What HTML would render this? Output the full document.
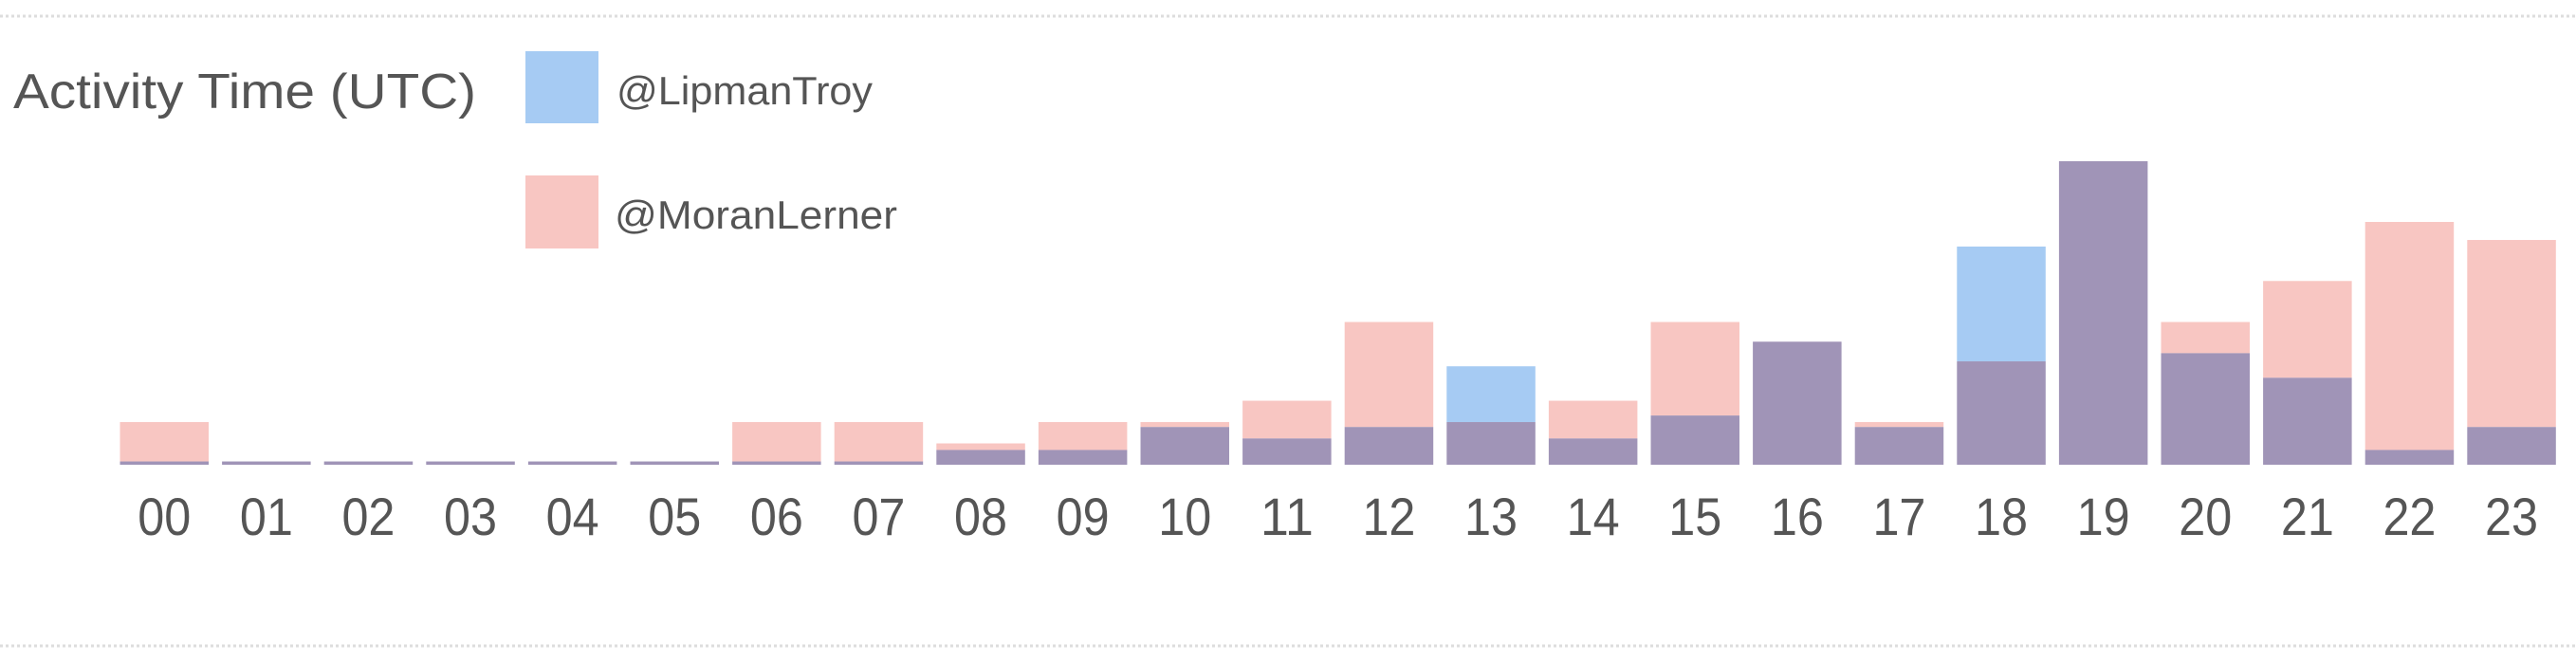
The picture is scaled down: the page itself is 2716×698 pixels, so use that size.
<!DOCTYPE html>
<html><head><meta charset="utf-8"><style>
html,body{margin:0;padding:0;background:#fff;}
svg{display:block;font-family:"Liberation Sans",Arial,sans-serif;}
</style></head><body>
<svg id="chart" width="2716" height="698" viewBox="0 0 2716 698" xmlns="http://www.w3.org/2000/svg">
<line x1="0" y1="17" x2="2716" y2="17" stroke="#ddd" stroke-width="3" stroke-dasharray="3,3"/>
<line x1="0" y1="681" x2="2716" y2="681" stroke="#ddd" stroke-width="3" stroke-dasharray="3,3"/>
<text x="14" y="114" font-size="52" fill="#555" textLength="488" lengthAdjust="spacingAndGlyphs">Activity Time (UTC)</text>
<rect x="554" y="54" width="77" height="76" fill="#a6cbf3"/>
<text x="650" y="110" font-size="42" fill="#555" textLength="270" lengthAdjust="spacingAndGlyphs">@LipmanTroy</text>
<rect x="554" y="185" width="77" height="77" fill="#f8c6c2"/>
<text x="648" y="241" font-size="42" fill="#555" textLength="298" lengthAdjust="spacingAndGlyphs">@MoranLerner</text>
<g id="bars"></g>
<g id="ticks"></g>
</svg>
<script>
const hours = ["00","01","02","03","04","05","06","07","08","09","10","11","12","13","14","15","16","17","18","19","20","21","22","23"];
const lipmanTroy = [2,2,2,2,2,2,2,2,9,9,23,16,23,60,16,30,75,23,133,185,68,53,9,23];
const moranLerner = [26,2,2,2,2,2,26,26,13,26,26,39,87,26,39,87,75,26,63,185,87,112,148,137];
const yMax = 185;

const x0 = 126.5, pitch = 107.6, barW = 93.5, baseY = 490, plotH = 320;
function xPos(i){ return x0 + i*pitch; }
function yScale(v){ return baseY - v/yMax*plotH; }
const NS = "http://www.w3.org/2000/svg";
const bars = document.getElementById('bars');
const ticks = document.getElementById('ticks');
hours.forEach((h,i)=>{
  const a = lipmanTroy[i], b = moranLerner[i];
  const hi = Math.max(a,b), lo = Math.min(a,b);
  const x = xPos(i);
  if (hi > lo) {
    const r = document.createElementNS(NS,'rect');
    
    
    r.setAttribute('x', x); r.setAttribute('width', barW);
    r.setAttribute('y', yScale(hi)); r.setAttribute('height', yScale(lo)-yScale(hi));
    r.setAttribute('fill', a > b ? '#a6cbf3' : '#f8c6c2');
    bars.appendChild(r);
  }
  const o = document.createElementNS(NS,'rect');
  
  
  o.setAttribute('x', x); o.setAttribute('width', barW);
  o.setAttribute('y', yScale(lo)); o.setAttribute('height', baseY-yScale(lo));
  o.setAttribute('fill', '#a094b7');
  bars.appendChild(o);
  const t = document.createElementNS(NS,'text');
  
  
  t.setAttribute('x', x + barW/2); t.setAttribute('y', 564);
  t.setAttribute('text-anchor','middle'); t.setAttribute('font-size','56'); t.setAttribute('fill','#555');
  t.setAttribute('textLength','56'); t.setAttribute('lengthAdjust','spacingAndGlyphs');
  t.textContent = h;
  ticks.appendChild(t);
});
</script>
</body></html>
